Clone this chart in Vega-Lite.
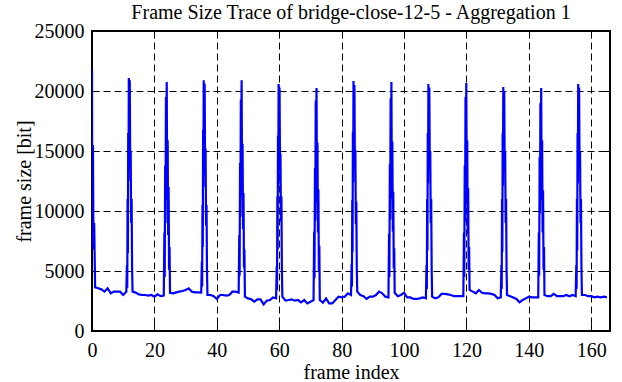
{
  "$schema": "https://vega.github.io/schema/vega-lite/v6.json",
  "width": 518,
  "height": 300,
  "autosize": {"type": "none"},
  "padding": {"left": 92, "top": 31, "right": 12, "bottom": 51},
  "background": "white",
  "title": {"text": "Frame Size Trace of bridge-close-12-5 - Aggregation 1", "font": "Liberation Serif", "fontSize": 20, "fontWeight": "normal", "color": "black", "anchor": "middle", "offset": -2},
  "config": {
    "font": "Liberation Serif",
    "view": {"stroke": "black", "strokeWidth": 2},
    "axis": {"domain": false, "tickColor": "black", "tickWidth": 1, "tickSize": -7, "labelColor": "black", "labelFontSize": 20, "labelFont": "Liberation Serif", "titleFont": "Liberation Serif", "titleFontSize": 20, "titleFontWeight": "normal", "titleColor": "black", "labelFlush": false}
  },
  "data": {"values": [
    {"frame": 0, "size": 21700}, {"frame": 0.1, "size": 7000}, {"frame": 0.2, "size": 12000}, {"frame": 0.3, "size": 15500}, {"frame": 0.42, "size": 9500}, {"frame": 0.55, "size": 6800}, {"frame": 0.7, "size": 9000},
    {"frame": 1, "size": 3640}, {"frame": 2, "size": 3560}, {"frame": 3, "size": 3470}, {"frame": 4, "size": 3280}, {"frame": 5, "size": 3560}, {"frame": 6, "size": 3140}, {"frame": 7, "size": 3280}, {"frame": 8, "size": 3280}, {"frame": 9, "size": 3280}, {"frame": 10, "size": 3000}, {"frame": 11, "size": 3280},
    {"frame": 11.2, "size": 5500}, {"frame": 11.3, "size": 3600}, {"frame": 11.4, "size": 11000}, {"frame": 11.5, "size": 6500}, {"frame": 11.6, "size": 16500}, {"frame": 11.7, "size": 12500}, {"frame": 11.8, "size": 21080}, {"frame": 11.95, "size": 17000}, {"frame": 12.1, "size": 20900}, {"frame": 12.25, "size": 13500}, {"frame": 12.4, "size": 15000}, {"frame": 12.55, "size": 9000}, {"frame": 12.7, "size": 11000}, {"frame": 12.85, "size": 5200},
    {"frame": 13, "size": 3280}, {"frame": 14, "size": 3200}, {"frame": 15, "size": 3050}, {"frame": 16, "size": 3000}, {"frame": 17, "size": 3000}, {"frame": 18, "size": 2950}, {"frame": 19, "size": 3000}, {"frame": 20, "size": 2860}, {"frame": 21, "size": 3050}, {"frame": 22, "size": 2900}, {"frame": 23, "size": 2950},
    {"frame": 23.2, "size": 8200}, {"frame": 23.3, "size": 4500}, {"frame": 23.45, "size": 13800}, {"frame": 23.55, "size": 9000}, {"frame": 23.7, "size": 19500}, {"frame": 23.8, "size": 15000}, {"frame": 23.95, "size": 20750}, {"frame": 24.1, "size": 10900}, {"frame": 24.25, "size": 15900}, {"frame": 24.4, "size": 8000}, {"frame": 24.55, "size": 12000}, {"frame": 24.7, "size": 5100}, {"frame": 24.85, "size": 7000},
    {"frame": 25, "size": 3190}, {"frame": 26, "size": 3140}, {"frame": 27, "size": 3220}, {"frame": 28, "size": 3280}, {"frame": 29, "size": 3330}, {"frame": 30, "size": 3420}, {"frame": 31, "size": 3560}, {"frame": 32, "size": 3280}, {"frame": 33, "size": 3220}, {"frame": 34, "size": 3220}, {"frame": 35, "size": 3200},
    {"frame": 35.2, "size": 5800}, {"frame": 35.3, "size": 3700}, {"frame": 35.4, "size": 10500}, {"frame": 35.5, "size": 7000}, {"frame": 35.6, "size": 16800}, {"frame": 35.7, "size": 12000}, {"frame": 35.8, "size": 20900}, {"frame": 35.95, "size": 17500}, {"frame": 36.1, "size": 20600}, {"frame": 36.25, "size": 13000}, {"frame": 36.4, "size": 15200}, {"frame": 36.55, "size": 8800}, {"frame": 36.7, "size": 10500}, {"frame": 36.85, "size": 5000},
    {"frame": 37, "size": 3000}, {"frame": 38, "size": 3000}, {"frame": 39, "size": 2900}, {"frame": 40, "size": 2670}, {"frame": 41, "size": 3000}, {"frame": 42, "size": 3000}, {"frame": 43, "size": 2950}, {"frame": 44, "size": 3000}, {"frame": 45, "size": 3280}, {"frame": 46, "size": 3280}, {"frame": 47, "size": 3200},
    {"frame": 47.2, "size": 8000}, {"frame": 47.3, "size": 4600}, {"frame": 47.45, "size": 14000}, {"frame": 47.55, "size": 9500}, {"frame": 47.7, "size": 19300}, {"frame": 47.8, "size": 15500}, {"frame": 47.95, "size": 20900}, {"frame": 48.1, "size": 11200}, {"frame": 48.25, "size": 15600}, {"frame": 48.4, "size": 8500}, {"frame": 48.55, "size": 11500}, {"frame": 48.7, "size": 5300}, {"frame": 48.85, "size": 6800},
    {"frame": 49, "size": 2860}, {"frame": 50, "size": 2720}, {"frame": 51, "size": 2640}, {"frame": 52, "size": 2440}, {"frame": 53, "size": 2640}, {"frame": 54, "size": 2640}, {"frame": 55, "size": 2220}, {"frame": 56, "size": 2530}, {"frame": 57, "size": 2580}, {"frame": 58, "size": 2800}, {"frame": 59, "size": 2720},
    {"frame": 59.2, "size": 5400}, {"frame": 59.3, "size": 3400}, {"frame": 59.4, "size": 11200}, {"frame": 59.5, "size": 6800}, {"frame": 59.6, "size": 16300}, {"frame": 59.7, "size": 12200}, {"frame": 59.8, "size": 20580}, {"frame": 59.95, "size": 17200}, {"frame": 60.1, "size": 20300}, {"frame": 60.25, "size": 13600}, {"frame": 60.4, "size": 14800}, {"frame": 60.55, "size": 9100}, {"frame": 60.7, "size": 11200}, {"frame": 60.85, "size": 5100},
    {"frame": 61, "size": 2860}, {"frame": 62, "size": 2530}, {"frame": 63, "size": 2580}, {"frame": 64, "size": 2640}, {"frame": 65, "size": 2530}, {"frame": 66, "size": 2580}, {"frame": 67, "size": 2390}, {"frame": 68, "size": 2580}, {"frame": 69, "size": 2300}, {"frame": 70, "size": 2440}, {"frame": 71, "size": 2580},
    {"frame": 71.2, "size": 8300}, {"frame": 71.3, "size": 4400}, {"frame": 71.45, "size": 13600}, {"frame": 71.55, "size": 9200}, {"frame": 71.7, "size": 19200}, {"frame": 71.8, "size": 15200}, {"frame": 71.95, "size": 20250}, {"frame": 72.1, "size": 10700}, {"frame": 72.25, "size": 15700}, {"frame": 72.4, "size": 8200}, {"frame": 72.55, "size": 11800}, {"frame": 72.7, "size": 5000}, {"frame": 72.85, "size": 7100},
    {"frame": 73, "size": 2580}, {"frame": 74, "size": 2360}, {"frame": 75, "size": 2720}, {"frame": 76, "size": 2300}, {"frame": 77, "size": 2300}, {"frame": 78, "size": 2580}, {"frame": 79, "size": 2860}, {"frame": 80, "size": 2800}, {"frame": 81, "size": 2860}, {"frame": 82, "size": 3140}, {"frame": 83, "size": 3000},
    {"frame": 83.2, "size": 5600}, {"frame": 83.3, "size": 3700}, {"frame": 83.4, "size": 10900}, {"frame": 83.5, "size": 6600}, {"frame": 83.6, "size": 16600}, {"frame": 83.7, "size": 12400}, {"frame": 83.8, "size": 20830}, {"frame": 83.95, "size": 17300}, {"frame": 84.1, "size": 20500}, {"frame": 84.25, "size": 13400}, {"frame": 84.4, "size": 15100}, {"frame": 84.55, "size": 8900}, {"frame": 84.7, "size": 10800}, {"frame": 84.85, "size": 5300},
    {"frame": 85, "size": 3280}, {"frame": 86, "size": 3000}, {"frame": 87, "size": 2900}, {"frame": 88, "size": 2670}, {"frame": 89, "size": 2860}, {"frame": 90, "size": 2860}, {"frame": 91, "size": 3000}, {"frame": 92, "size": 3280}, {"frame": 93, "size": 3140}, {"frame": 94, "size": 2860}, {"frame": 95, "size": 2800},
    {"frame": 95.2, "size": 8100}, {"frame": 95.3, "size": 4500}, {"frame": 95.45, "size": 13900}, {"frame": 95.55, "size": 9300}, {"frame": 95.7, "size": 19400}, {"frame": 95.8, "size": 15400}, {"frame": 95.95, "size": 20750}, {"frame": 96.1, "size": 11000}, {"frame": 96.25, "size": 15800}, {"frame": 96.4, "size": 8300}, {"frame": 96.55, "size": 11600}, {"frame": 96.7, "size": 5200}, {"frame": 96.85, "size": 6900},
    {"frame": 97, "size": 3190}, {"frame": 98, "size": 2900}, {"frame": 99, "size": 3000}, {"frame": 100, "size": 3190}, {"frame": 101, "size": 2800}, {"frame": 102, "size": 2800}, {"frame": 103, "size": 2670}, {"frame": 104, "size": 2670}, {"frame": 105, "size": 2720}, {"frame": 106, "size": 2800}, {"frame": 107, "size": 2720},
    {"frame": 107.2, "size": 5500}, {"frame": 107.3, "size": 3500}, {"frame": 107.4, "size": 11000}, {"frame": 107.5, "size": 6700}, {"frame": 107.6, "size": 16500}, {"frame": 107.7, "size": 12300}, {"frame": 107.8, "size": 20580}, {"frame": 107.95, "size": 17100}, {"frame": 108.1, "size": 20300}, {"frame": 108.25, "size": 13500}, {"frame": 108.4, "size": 15000}, {"frame": 108.55, "size": 9000}, {"frame": 108.7, "size": 11000}, {"frame": 108.85, "size": 5200},
    {"frame": 109, "size": 2860}, {"frame": 110, "size": 2720}, {"frame": 111, "size": 2800}, {"frame": 112, "size": 3090}, {"frame": 113, "size": 3090}, {"frame": 114, "size": 3050}, {"frame": 115, "size": 3000}, {"frame": 116, "size": 2900}, {"frame": 117, "size": 2900}, {"frame": 118, "size": 2900}, {"frame": 119, "size": 2900},
    {"frame": 119.2, "size": 8200}, {"frame": 119.3, "size": 4500}, {"frame": 119.45, "size": 13800}, {"frame": 119.55, "size": 9100}, {"frame": 119.7, "size": 19500}, {"frame": 119.8, "size": 15300}, {"frame": 119.95, "size": 20670}, {"frame": 120.1, "size": 10900}, {"frame": 120.25, "size": 15900}, {"frame": 120.4, "size": 8100}, {"frame": 120.55, "size": 11900}, {"frame": 120.7, "size": 5100}, {"frame": 120.85, "size": 7000},
    {"frame": 121, "size": 3420}, {"frame": 122, "size": 3280}, {"frame": 123, "size": 3140}, {"frame": 124, "size": 3420}, {"frame": 125, "size": 3190}, {"frame": 126, "size": 3140}, {"frame": 127, "size": 3140}, {"frame": 128, "size": 3090}, {"frame": 129, "size": 3000}, {"frame": 130, "size": 2720}, {"frame": 131, "size": 2800},
    {"frame": 131.2, "size": 5500}, {"frame": 131.3, "size": 3500}, {"frame": 131.4, "size": 11000}, {"frame": 131.5, "size": 6600}, {"frame": 131.6, "size": 16500}, {"frame": 131.7, "size": 12100}, {"frame": 131.8, "size": 20330}, {"frame": 131.95, "size": 16900}, {"frame": 132.1, "size": 20000}, {"frame": 132.25, "size": 13500}, {"frame": 132.4, "size": 15000}, {"frame": 132.55, "size": 9000}, {"frame": 132.7, "size": 11000}, {"frame": 132.85, "size": 5200},
    {"frame": 133, "size": 3000}, {"frame": 134, "size": 2900}, {"frame": 135, "size": 2800}, {"frame": 136, "size": 2670}, {"frame": 137, "size": 2390}, {"frame": 138, "size": 2580}, {"frame": 139, "size": 2720}, {"frame": 140, "size": 2860}, {"frame": 141, "size": 2800}, {"frame": 142, "size": 2800}, {"frame": 143, "size": 2800},
    {"frame": 143.2, "size": 8200}, {"frame": 143.3, "size": 4600}, {"frame": 143.45, "size": 14500}, {"frame": 143.55, "size": 9800}, {"frame": 143.7, "size": 19000}, {"frame": 143.8, "size": 15000}, {"frame": 143.95, "size": 20250}, {"frame": 144.1, "size": 10900}, {"frame": 144.25, "size": 15900}, {"frame": 144.4, "size": 8200}, {"frame": 144.55, "size": 11700}, {"frame": 144.7, "size": 5100}, {"frame": 144.85, "size": 7000},
    {"frame": 145, "size": 3000}, {"frame": 146, "size": 2900}, {"frame": 147, "size": 2900}, {"frame": 148, "size": 3090}, {"frame": 149, "size": 2900}, {"frame": 150, "size": 2900}, {"frame": 151, "size": 2900}, {"frame": 152, "size": 3000}, {"frame": 153, "size": 2900}, {"frame": 154, "size": 3000}, {"frame": 155, "size": 2900},
    {"frame": 155.2, "size": 5500}, {"frame": 155.3, "size": 3500}, {"frame": 155.4, "size": 11000}, {"frame": 155.5, "size": 6700}, {"frame": 155.6, "size": 16500}, {"frame": 155.7, "size": 12300}, {"frame": 155.8, "size": 20580}, {"frame": 155.95, "size": 17100}, {"frame": 156.1, "size": 20300}, {"frame": 156.25, "size": 13500}, {"frame": 156.4, "size": 15000}, {"frame": 156.55, "size": 9000}, {"frame": 156.7, "size": 11000}, {"frame": 156.85, "size": 5200},
    {"frame": 157, "size": 3000}, {"frame": 158, "size": 3000}, {"frame": 159, "size": 2900}, {"frame": 160, "size": 2900}, {"frame": 161, "size": 2800}, {"frame": 162, "size": 2860}, {"frame": 163, "size": 2800}, {"frame": 164, "size": 2860}, {"frame": 165, "size": 2800}
  ]},
  "layer": [
    {
      "mark": {"type": "line", "color": "#0000ff", "strokeWidth": 2.2, "clip": true},
      "encoding": {
        "x": {"field": "frame", "type": "quantitative", "scale": {"domain": [0, 166], "nice": false, "zero": false},
          "axis": {"orient": "bottom", "values": [0, 20, 40, 60, 80, 100, 120, 140, 160], "grid": true, "gridColor": "black", "gridDash": [7, 4], "gridOpacity": 1, "gridWidth": 1, "labelPadding": 16, "labelFontSize": 20, "labelFlush": false, "title": "frame index", "titlePadding": 2}},
        "y": {"field": "size", "type": "quantitative", "scale": {"domain": [0, 25000], "nice": false},
          "axis": {"orient": "left", "values": [0, 5000, 10000, 15000, 20000, 25000], "format": "d", "grid": true, "gridColor": "black", "gridDash": [7, 4], "gridOpacity": 1, "gridWidth": 1, "labelPadding": 15, "labelFontSize": 20, "labelFlush": false, "title": "frame size [bit]", "titlePadding": 0}}
      }
    },
    {
      "mark": {"type": "line", "strokeOpacity": 0},
      "encoding": {
        "x": {"field": "frame", "type": "quantitative", "axis": {"orient": "top", "values": [0, 20, 40, 60, 80, 100, 120, 140, 160], "labels": false, "grid": false, "title": null}},
        "y": {"field": "size", "type": "quantitative", "axis": {"orient": "right", "values": [0, 5000, 10000, 15000, 20000, 25000], "labels": false, "grid": false, "title": null}}
      }
    }
  ],
  "resolve": {"axis": {"x": "independent", "y": "independent"}}
}
